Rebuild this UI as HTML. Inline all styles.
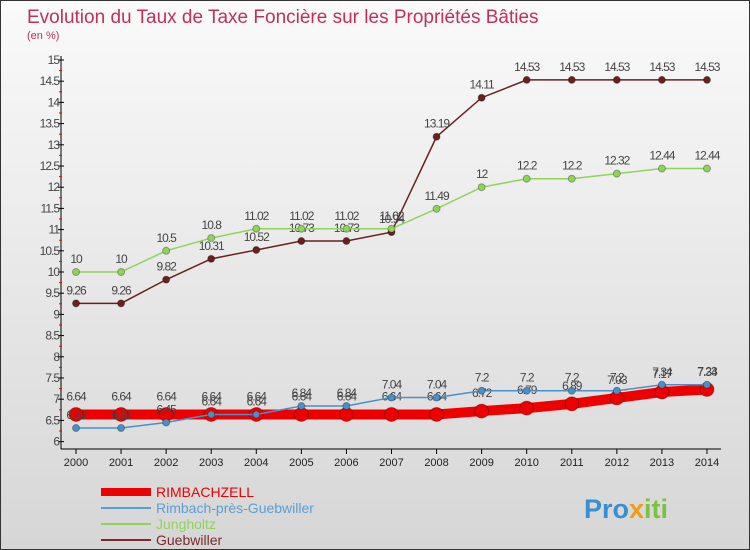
<!DOCTYPE html>
<html><head><meta charset="utf-8"><style>
body{margin:0}
#c{width:748px;height:548px;border:1px solid #333;position:relative;background:linear-gradient(#fafafa,#d6d6d6);font-family:"Liberation Sans",sans-serif;overflow:hidden}
</style></head><body>
<div id="c">
<svg id="s" width="748" height="548" xmlns="http://www.w3.org/2000/svg" font-family="Liberation Sans, sans-serif">
<text x="26" y="22" font-size="19" fill="#c0305a">Evolution du Taux de Taxe Foncière sur les Propriétés Bâties</text>
<text x="26" y="38" font-size="11" fill="#c0305a">(en %)</text>
<g id="ax"></g><g id="series"></g>
<g>
<line x1="100" y1="491" x2="150" y2="491" stroke="#e00" stroke-width="8"/>
<text x="155" y="496" font-size="14" fill="#e00">RIMBACHZELL</text>
<line x1="100" y1="507" x2="150" y2="507" stroke="#5a9fd4" stroke-width="2"/>
<text x="155" y="512" font-size="14" fill="#5a9fd4">Rimbach-près-Guebwiller</text>
<line x1="100" y1="523" x2="150" y2="523" stroke="#8fd45a" stroke-width="2"/>
<text x="155" y="528" font-size="14" fill="#8fd45a">Jungholtz</text>
<line x1="100" y1="539" x2="150" y2="539" stroke="#7a2a2a" stroke-width="2"/>
<text x="155" y="544" font-size="14" fill="#7a2a2a">Guebwiller</text>
</g>
<text x="583" y="517" font-size="27" font-weight="bold" fill="#3a8fd0">Pro<tspan fill="#f39c12">x</tspan><tspan fill="#7cc242">iti</tspan></text>
</svg></div>
<script>
const years=[2000,2001,2002,2003,2004,2005,2006,2007,2008,2009,2010,2011,2012,2013,2014];
const rimbachzell=[6.64,6.64,6.64,6.64,6.64,6.64,6.64,6.64,6.64,6.72,6.79,6.89,7.03,7.17,7.23];
const rimbach=[6.32,6.32,6.45,6.64,6.64,6.84,6.84,7.04,7.04,7.2,7.2,7.2,7.2,7.34,7.34];
const jungholtz=[10,10,10.5,10.8,11.02,11.02,11.02,11.02,11.49,12,12.2,12.2,12.32,12.44,12.44];
const guebwiller=[9.26,9.26,9.82,10.31,10.52,10.73,10.73,10.94,13.19,14.11,14.53,14.53,14.53,14.53,14.53];
const yTicks=[6,6.5,7,7.5,8,8.5,9,9.5,10,10.5,11,11.5,12,12.5,13,13.5,14,14.5,15];
const NS="http://www.w3.org/2000/svg";
const X=i=>75+i*45.07, Y=v=>440.6-(v-6)*42.4;
function mk(t,a,p){const e=document.createElementNS(NS,t);for(const k in a)e.setAttribute(k,a[k]);p.appendChild(e);return e;}
const ax=document.getElementById('ax'), sg=document.getElementById('series');
let l=mk('line',{x1:60,y1:55,x2:60,y2:448,stroke:'#000'},ax);


let xl=mk('line',{x1:60,y1:448,x2:720,y2:448,stroke:'#000'},ax);


yTicks.forEach(v=>{mk('line',{x1:57,y1:Y(v),x2:63,y2:Y(v),stroke:'#000'},ax);
 if(v<15)mk('line',{x1:58,y1:Y(v+0.25),x2:61,y2:Y(v+0.25),stroke:'#e00'},ax);
 const t=mk('text',{x:58,y:Y(v)+4,'font-size':12,fill:'#444','text-anchor':'end','letter-spacing':'-1'},ax);t.textContent=String(v);
 
 });
years.forEach((y,i)=>{mk('line',{x1:X(i),y1:448,x2:X(i),y2:453,stroke:'#000'},ax);
 const t=mk('text',{x:X(i),y:465,'font-size':11,fill:'#222','text-anchor':'middle'},ax);t.textContent=y;
 
 });
function series(d,col,w,r,name,labDy){
 const p=mk('polyline',{points:d.map((v,i)=>X(i)+','+Y(v)).join(' '),fill:'none',stroke:col,'stroke-width':w},sg);
 
 
 d.forEach((v,i)=>{const c=mk('circle',{cx:X(i),cy:Y(v),r:r,fill:col,stroke:'rgba(0,0,0,0.3)'},sg);
  
  
  const t=mk('text',{x:X(i),y:Y(v)+labDy,'font-size':12,fill:'#444','text-anchor':'middle','letter-spacing':'-1'},sg);t.textContent=String(v);
  
  });
}
series(guebwiller,'#6b1f1f',1.5,3.5,'guebwiller',-9);
series(jungholtz,'#8fd45a',1.5,3.5,'jungholtz',-9);
series(rimbachzell,'#e00',10,7,'rimbachzell',-14);
series(rimbach,'#4a90c8',1.5,3.5,'rimbach',-9);
</script>
</body></html>
